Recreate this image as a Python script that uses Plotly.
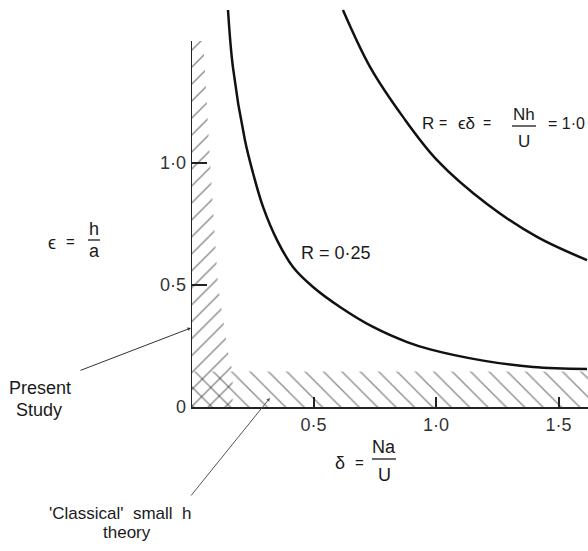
import plotly.graph_objects as go

# ---- data ----
r025_delta = [0.151, 0.171, 0.220, 0.253, 0.294, 0.351, 0.416, 0.498, 0.608, 0.743, 0.882, 0.976, 1.192, 1.396, 1.616]
r025_eps = [1.627, 1.393, 1.094, 0.959, 0.820, 0.684, 0.574, 0.492, 0.410, 0.328, 0.266, 0.236, 0.190, 0.164, 0.156]

r100_delta = [0.620, 0.731, 0.865, 1.004, 1.208, 1.412, 1.616]
r100_eps = [1.627, 1.393, 1.189, 1.012, 0.832, 0.697, 0.602]

present_delta = [0, 0, 0.05, 0.078, 0.11, 0.15, 0.17, 0.17]
present_eps = [0, 1.5, 1.5, 1.0, 0.5, 0.23, 0.145, 0]

classical_delta = [0, 0, 1.62, 1.62]
classical_eps = [0, 0.145, 0.145, 0]

x_tickvals = [0.5, 1.0, 1.5]
x_ticktext = ["0·5", "1·0", "1·5"]
y_tickvals = [0, 0.5, 1.0]
y_ticktext = ["0", "0·5", "1·0"]

X_MAX = 1.62
Y_MAX = 1.668
Y_AXIS_TOP = 1.5

FONT = "Liberation Sans, Arial, sans-serif"
INK = "#1a1a1a"

fig = go.Figure()

# hatched regions
fig.add_trace(go.Scatter(
    x=present_delta, y=present_eps, mode="lines", fill="toself",
    line=dict(width=0, color="rgba(0,0,0,0)"), fillcolor="rgba(0,0,0,0)",
    fillpattern=dict(shape="/", size=12, solidity=0.12, fgcolor="#222",
                     bgcolor="rgba(0,0,0,0)", fillmode="overlay"),
    hoverinfo="skip", showlegend=False))
fig.add_trace(go.Scatter(
    x=classical_delta, y=classical_eps, mode="lines", fill="toself",
    line=dict(width=0, color="rgba(0,0,0,0)"), fillcolor="rgba(0,0,0,0)",
    fillpattern=dict(shape="\\", size=13, solidity=0.11, fgcolor="#222",
                     bgcolor="rgba(0,0,0,0)", fillmode="overlay"),
    hoverinfo="skip", showlegend=False))

# curves
fig.add_trace(go.Scatter(x=r025_delta, y=r025_eps, mode="lines",
                         line=dict(color="#111", width=2.5, shape="spline"),
                         showlegend=False))
fig.add_trace(go.Scatter(x=r100_delta, y=r100_eps, mode="lines",
                         line=dict(color="#111", width=2.5, shape="spline"),
                         showlegend=False))

# y axis line (only to 1.5)
fig.add_shape(type="line", x0=0, x1=0, y0=0, y1=Y_AXIS_TOP, xref="x", yref="y",
              line=dict(color="#222", width=2))

fig.update_xaxes(range=[0, X_MAX], showgrid=False, zeroline=False,
                 showline=True, linecolor="#222", linewidth=2,
                 ticks="inside", ticklen=10, tickwidth=1.5, tickcolor="#222",
                 tickvals=x_tickvals, ticktext=x_ticktext,
                 tickfont=dict(family=FONT, size=18, color="#333"))
fig.update_yaxes(range=[0, Y_MAX], showgrid=False, zeroline=False,
                 showline=False,
                 ticks="inside", ticklen=16, tickwidth=1.5, tickcolor="#222",
                 tickvals=y_tickvals, ticktext=y_ticktext, ticklabelstandoff=4,
                 tickfont=dict(family=FONT, size=18, color="#333"))

W, H = 588, 551
L, B = 191, 144
PW, PH = W - L, H - B


def px(xp):
    return (xp - L) / PW


def py(yp):
    return (PH - yp) / PH


def text(s, xp, yp, size=18, anchor="center"):
    fig.add_annotation(text=s, x=px(xp), y=py(yp), xref="paper", yref="paper",
                       showarrow=False, xanchor=anchor, yanchor="middle",
                       font=dict(family=FONT, size=size, color=INK))


def bar(x0p, x1p, yp):
    fig.add_shape(type="line", x0=px(x0p), x1=px(x1p), y0=py(yp), y1=py(yp),
                  xref="paper", yref="paper", line=dict(color=INK, width=1.3))


# epsilon = h/a
text("ϵ", 52, 243)
text("=", 71, 242, size=15)
text("h", 94, 229)
bar(88, 100, 240)
text("a", 94, 251)

# delta = Na/U
text("δ", 340, 463)
text("=", 359, 462, size=15)
text("Na", 384, 447)
bar(372, 396, 459)
text("U", 384, 475)

# R = 0.25
text("R = 0·25", 299, 253, anchor="left")

# R = eps delta = Nh/U = 1.0
text("R", 428, 123, size=17)
text("=", 443, 123, size=14)
text("ϵδ", 466, 123, size=17)
text("=", 487, 123, size=14)
text("Nh", 524, 114, size=17)
bar(512, 536, 126)
text("U", 524, 141, size=17)
text("= 1·0", 566, 123, size=16)

# Present Study
text("Present", 40, 388)
text("Study", 39, 410)
fig.add_annotation(x=0, y=0.324, xref="x", yref="y", text="", showarrow=True,
                   ax=-112, ay=43, arrowhead=2, arrowsize=0.7, arrowwidth=1,
                   arrowcolor="#333")

# Classical small h theory
text("'Classical'  small  h", 120, 513, size=17)
text("theory", 127, 532, size=17)
fig.add_annotation(x=0.322, y=0.037, xref="x", yref="y", text="", showarrow=True,
                   ax=-80, ay=99, arrowhead=2, arrowsize=0.7, arrowwidth=1,
                   arrowcolor="#555")

fig.update_layout(width=W, height=H, margin=dict(l=L, r=0, t=0, b=B),
                  paper_bgcolor="white", plot_bgcolor="white",
                  showlegend=False)

fig.write_html("out.html", config={"displayModeBar": False},
               post_script="document.body.style.margin='0';"
                           "document.body.style.overflow='hidden';")
